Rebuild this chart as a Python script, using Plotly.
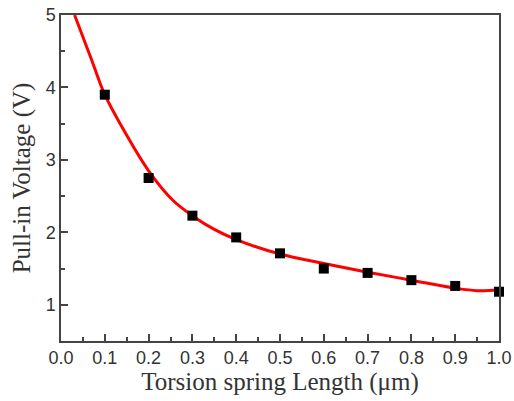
import plotly.graph_objects as go

# Measured data points
length_um = [0.1, 0.2, 0.3, 0.4, 0.5, 0.6, 0.7, 0.8, 0.9, 1.0]
pullin_v = [3.90, 2.75, 2.23, 1.93, 1.71, 1.50, 1.44, 1.34, 1.26, 1.18]

# Fitted curve
fit_x = [0.031, 0.07, 0.1, 0.135, 0.2, 0.256, 0.3, 0.35, 0.4, 0.5, 0.6, 0.7, 0.8, 0.9, 0.95, 1.0]
fit_y = [5.0, 4.38, 3.90, 3.50, 2.85, 2.44, 2.23, 2.04, 1.90, 1.70, 1.57, 1.45, 1.34, 1.23, 1.195, 1.205]

x_ticks = [0.0, 0.1, 0.2, 0.3, 0.4, 0.5, 0.6, 0.7, 0.8, 0.9, 1.0]
x_tick_labels = ["0.0", "0.1", "0.2", "0.3", "0.4", "0.5", "0.6", "0.7", "0.8", "0.9", "1.0"]
y_ticks = [1, 2, 3, 4, 5]

fig = go.Figure()
fig.add_trace(go.Scatter(
    x=fit_x, y=fit_y, mode="lines",
    line=dict(color="#ff0000", width=3, shape="spline", smoothing=1.0),
    showlegend=False, cliponaxis=True,
))
fig.add_trace(go.Scatter(
    x=length_um, y=pullin_v, mode="markers",
    marker=dict(symbol="square", size=10, color="black"),
    showlegend=False, cliponaxis=False,
))

axis_common = dict(
    showline=True, linecolor="#444444", linewidth=1.5, mirror=True,
    ticks="inside", ticklen=7, tickwidth=1.5, tickcolor="#444444",
    showgrid=False, zeroline=False, automargin=False,
    tickfont=dict(family="Liberation Sans, Arial, sans-serif", size=18, color="#333333"),
)

fig.update_xaxes(
    range=[0, 1.0], tickvals=x_ticks, ticktext=x_tick_labels,
    minor=dict(ticks="inside", ticklen=4, tickwidth=1.5, tickcolor="#444444", dtick=0.05),
    title=dict(text="Torsion spring Length (μm)",
               font=dict(family="Liberation Serif, Times New Roman, serif", size=25, color="#333333"),
               standoff=2),
    **axis_common,
)
fig.update_yaxes(
    range=[0.5, 5], tickvals=y_ticks,
    minor=dict(ticks="inside", ticklen=4, tickwidth=1.5, tickcolor="#444444", dtick=0.5),
    title=dict(text="Pull-in Voltage (V)",
               font=dict(family="Liberation Serif, Times New Roman, serif", size=25, color="#333333"),
               standoff=8),
    **axis_common,
)

fig.update_layout(
    width=514, height=401,
    margin=dict(l=61, r=15, t=15, b=60),
    paper_bgcolor="white", plot_bgcolor="white",
)

fig.write_html("out.html", config={"displayModeBar": False},
               post_script="document.body.style.margin='0';document.body.style.overflow='hidden';")
